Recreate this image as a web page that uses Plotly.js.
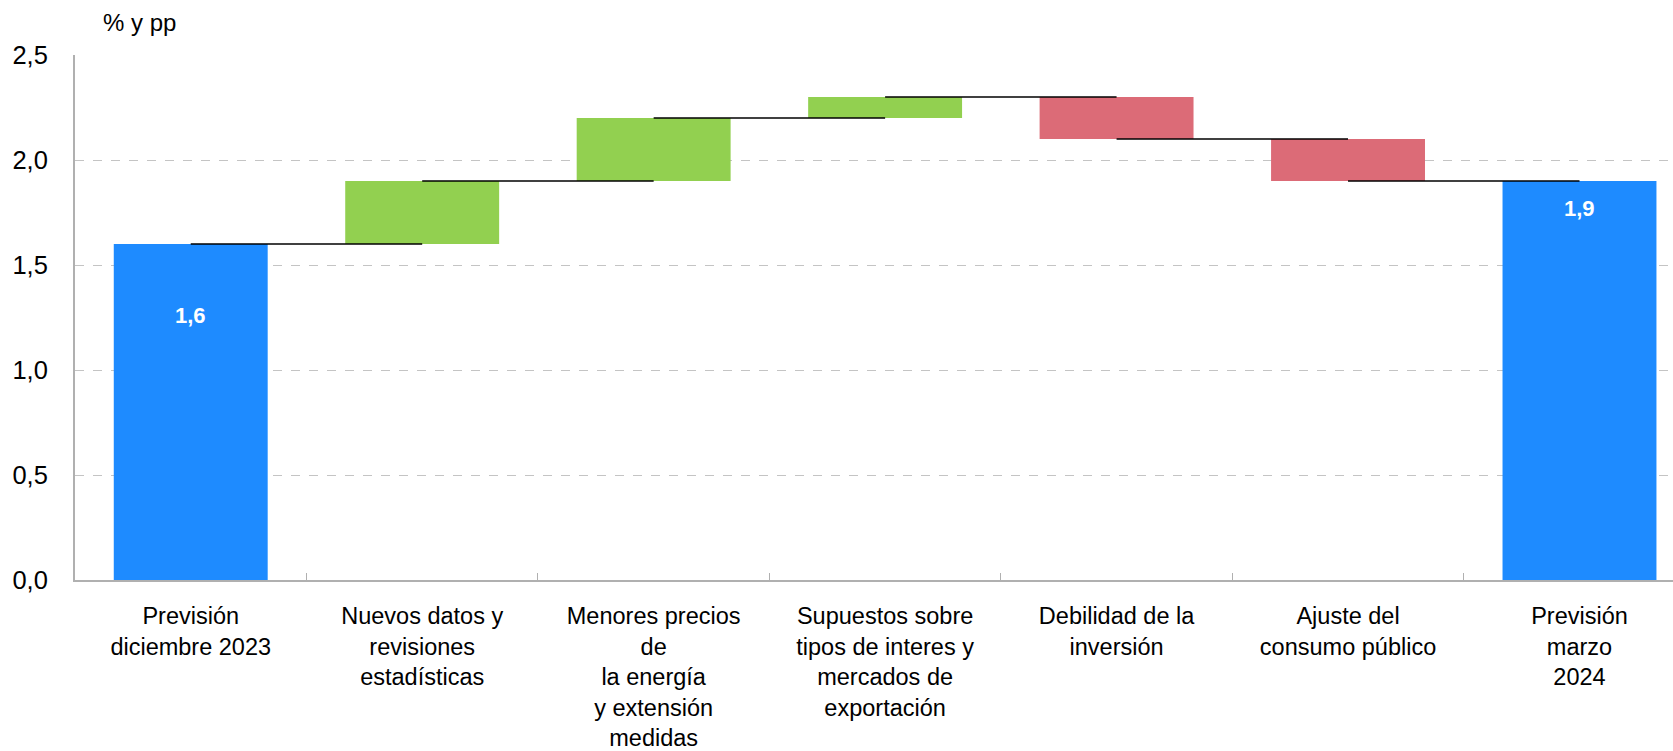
<!DOCTYPE html>
<html>
<head>
<meta charset="utf-8">
<script src="https://cdn.plot.ly/plotly-3.0.1.min.js"></script>
<style>html,body{margin:0;padding:0;background:#fff;}#chart{width:1673px;height:751px;}</style>
</head>
<body>
<div id="chart"></div>
<script>
const categories = [
  "Previsión<br>diciembre 2023",
  "Nuevos datos y<br>revisiones<br>estadísticas",
  "Menores precios<br>de<br>la energía<br>y extensión<br>medidas",
  "Supuestos sobre<br>tipos de interes y<br>mercados de<br>exportación",
  "Debilidad de la<br>inversión",
  "Ajuste del<br>consumo público",
  "Previsión<br>marzo<br>2024"
];
const kinds = ["total", "delta", "delta", "delta", "delta", "delta", "total"];
const values = [1.6, 0.3, 0.3, 0.1, -0.2, -0.2, 1.9];
const yTicks = [0, 0.5, 1.0, 1.5, 2.0, 2.5];
const yTickLabels = ["0,0", "0,5", "1,0", "1,5", "2,0", "2,5"];
const unitLabel = "% y pp";

const COLORS = {total: "#1E8BFF", up: "#92D050", down: "#DC6B77"};

// compute bases and running levels
const bases = [], heights = [], colors = [], levels = [];
let run = 0;
for (let i = 0; i < values.length; i++) {
  if (kinds[i] === "total") {
    bases.push(0); heights.push(values[i]); colors.push(COLORS.total);
    run = values[i];
  } else {
    bases.push(run); heights.push(values[i]);
    colors.push(values[i] >= 0 ? COLORS.up : COLORS.down);
    run = run + values[i];
  }
  levels.push(Math.round(run * 1000) / 1000);
}

const cx = [], cy = [];
for (let i = 0; i < values.length - 1; i++) {
  cx.push(categories[i], categories[i + 1], null);
  cy.push(levels[i], levels[i], null);
}

const traces = [
  {
    type: "bar", x: categories, y: heights, base: bases,
    marker: {color: colors, line: {width: 0}},
    width: 0.665, hoverinfo: "skip", showlegend: false
  },
  {
    type: "scatter", mode: "lines", x: cx, y: cy,
    line: {color: "#000", width: 1.5}, hoverinfo: "skip", showlegend: false,
    connectgaps: false
  }
];

const annotations = [];
const labelOffsets = {0: 0.342, 6: 0.133};
for (let i = 0; i < values.length; i++) {
  if (kinds[i] === "total") {
    annotations.push({
      x: categories[i], y: values[i] - labelOffsets[i], xref: "x", yref: "y",
      text: "<b>" + values[i].toFixed(1).replace(".", ",") + "</b>",
      showarrow: false, font: {color: "#fff", size: 22, family: "Liberation Sans, Arial, sans-serif"}
    });
  }
}
annotations.push({
  x: 0.016, y: 1, xref: "paper", yref: "paper", yshift: 17, xanchor: "left", yanchor: "bottom",
  text: unitLabel, showarrow: false,
  font: {size: 24, color: "#000", family: "Liberation Sans, Arial, sans-serif"}
});

const layout = {
  width: 1673, height: 751,
  margin: {l: 75, r: 0, t: 55, b: 171},
  paper_bgcolor: "#fff", plot_bgcolor: "#fff",
  font: {family: "Liberation Sans, Arial, sans-serif", color: "#000"},
  bargap: 0.335,
  xaxis: {
    type: "category", range: [-0.5, 6.404],
    showline: true, linecolor: "#b0b0b0", linewidth: 2,
    ticks: "inside", tickson: "boundaries", ticklen: 7, tickcolor: "#b0b0b0", tickwidth: 1,
    showgrid: false, tickfont: {size: 23.5}, ticklabelstandoff: 14,
    fixedrange: true
  },
  yaxis: {
    range: [0, 2.5], tickvals: yTicks, ticktext: yTickLabels,
    showline: true, linecolor: "#b0b0b0", linewidth: 2,
    showgrid: true, gridcolor: "#c4c4c4", griddash: "dash", gridwidth: 1,
    zeroline: false, ticks: "", tickfont: {size: 25.5}, ticklabelstandoff: 20,
    fixedrange: true
  },
  annotations: annotations
};

Plotly.newPlot("chart", traces, layout, {displayModeBar: false, staticPlot: true});
</script>
</body>
</html>
